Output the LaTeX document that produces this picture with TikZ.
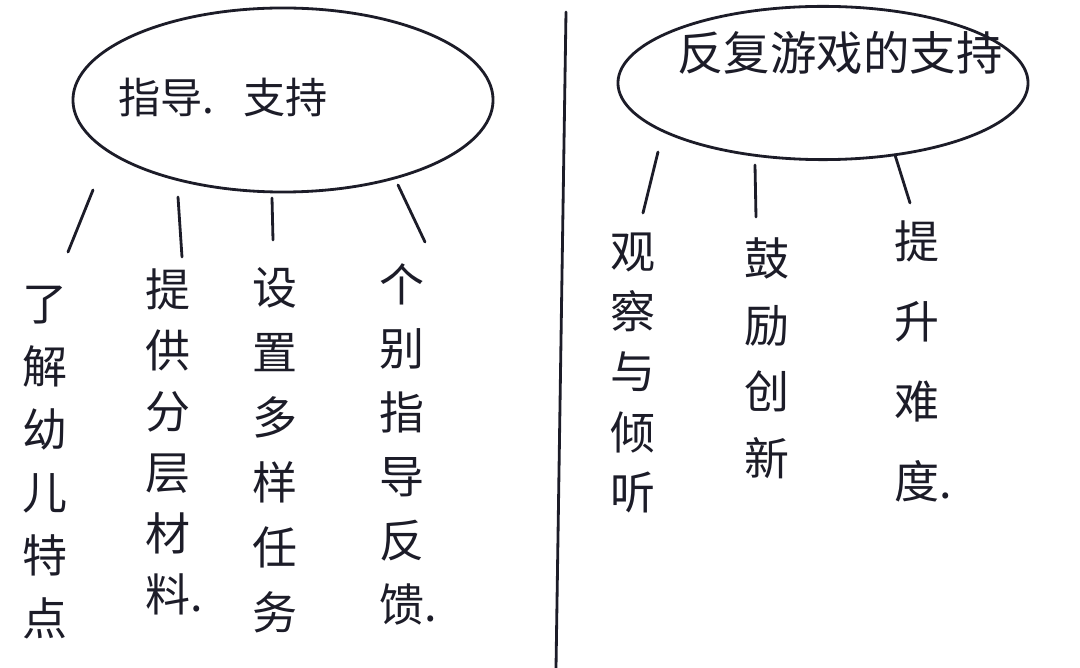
\documentclass[tikz,border=0pt]{standalone}
\usepackage{fontspec}
\usepackage{tikz}
\usetikzlibrary{shapes.geometric}
\newfontfamily\cjk{Noto Sans CJK SC}
\definecolor{ink}{RGB}{28,28,40}
\tikzset{
  bolla/.style={draw=ink, line width=2pt, ellipse, inner sep=0pt},
  titolo/.style={font=\cjk\fontsize{#1}{#1}\selectfont, text=ink, inner sep=0pt},
  colonna/.style={font=\cjk\fontsize{32}{#1}\selectfont, align=center, anchor=north, inner sep=0pt, text=ink},
  ramo/.style={ink, line width=2pt, line cap=round},
}

\begin{document}
\begin{tikzpicture}[x=0.025cm, y=-0.025cm]
    \useasboundingbox (0,0) rectangle (1080,668);
    % Divisore
    \coordinate (divA) at (566,12);
    \coordinate (divB) at (556,668);
    \draw[ramo] (divA) -- (divB);
    % Parte sinistra
    \node[bolla, minimum width=10.5cm, minimum height=4.6cm] (bollaL) at (283,100) {};
    \node[titolo=30] (titoloL) at (223,97) {指导.\hspace{0.7em}支持};
    % colonne sinistra
    \node[colonna=44.8pt] (c1) at (45,286) {了\\解\\幼\\儿\\特\\点};
    \node[colonna=43.4pt] (c2) at (168,268) {提\\供\\分\\层\\材\\料\rlap{.}};
    \node[colonna=46.2pt] (c3) at (275,267) {设\\置\\多\\样\\任\\务};
    \node[colonna=45.5pt] (c4) at (402,263) {个\\别\\指\\导\\反\\馈\rlap{.}};
    % rami sinistra
    \coordinate (l1a) at (93,190);  \coordinate (l1b) at (68,252);
    \coordinate (l2a) at (178,197); \coordinate (l2b) at (182,257);
    \coordinate (l3a) at (272,198); \coordinate (l3b) at (273,240);
    \coordinate (l4a) at (398,185); \coordinate (l4b) at (425,242);
    \foreach \i in {1,...,4}{
        \draw[ramo] (l\i a) -- (l\i b);
    }
    % Parte destra
    \node[bolla, minimum width=10.25cm, minimum height=3.83cm] (bollaR) at (823,83) {};
    \node[titolo=33] (titoloR) at (840,53) {反复游戏的支持};
    % colonne destra
    \node[colonna=42.7pt] (d1) at (633,233) {观\\察\\与\\倾\\听};
    \node[colonna=47.6pt] (d2) at (767,237) {鼓\\励\\创\\新};
    \node[colonna=56.9pt] (d3) at (917,220) {提\\升\\难\\度\rlap{.}};
    % rami destra
    \coordinate (r1a) at (658,152); \coordinate (r1b) at (643,213);
    \coordinate (r2a) at (755,165); \coordinate (r2b) at (756,217);
    \coordinate (r3a) at (895,155); \coordinate (r3b) at (910,203);
    \foreach \i in {1,2,3}{
        \draw[ramo] (r\i a) -- (r\i b);
    }
\end{tikzpicture}
\end{document}
